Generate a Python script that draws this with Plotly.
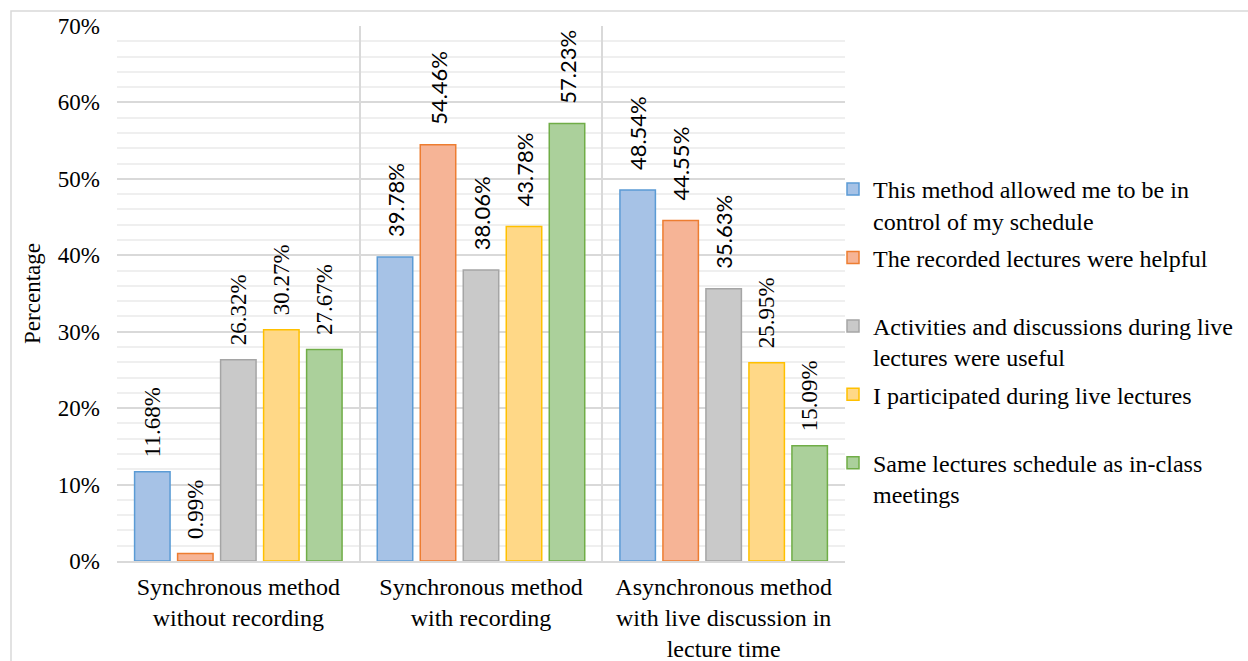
import plotly.graph_objects as go

# Survey categories (x axis) and response shares in percent
categories = [
    "Synchronous method<br>without recording",
    "Synchronous method<br>with recording",
    "Asynchronous method<br>with live discussion in<br>lecture time",
]

series_names = [
    "This method allowed me to be in<br>control of my schedule",
    "The recorded lectures were helpful<br>\u00a0",
    "Activities and discussions during live<br>lectures were useful",
    "I participated during live lectures<br>\u00a0",
    "Same lectures schedule as in-class<br>meetings",
]

control_schedule = [11.68, 39.78, 48.54]
recorded_helpful = [0.99, 54.46, 44.55]
activities_useful = [26.32, 38.06, 35.63]
participated_live = [30.27, 43.78, 25.95]
same_schedule = [27.67, 57.23, 15.09]

# Which value labels are set in a sans face (the rest use a serif face)
sans_labels = [
    [False, True, True],
    [False, True, True],
    [False, True, True],
    [False, True, False],
    [False, True, False],
]

fills = ["#a6c2e6", "#f6b496", "#c9c9c9", "#ffd887", "#abd09b"]
edges = ["#5b9bd5", "#ed7d31", "#a5a5a5", "#ffc000", "#70ad47"]

SERIF = "Liberation Serif"
SANS = "Lato"

W, H = 1248, 661
ML, MR, MT, MB = 117, 403, 26, 100
PW = W - ML - MR
PH = H - MT - MB

fig = go.Figure()

all_values = [control_schedule, recorded_helpful, activities_useful,
              participated_live, same_schedule]

for i, (name, vals) in enumerate(zip(series_names, all_values)):
    fams = [SANS if s else SERIF for s in sans_labels[i]]
    sizes = [22 if s else 23 for s in sans_labels[i]]
    labels = [("\u00a0\u00a0\u00a0" if s else "\u00a0\u00a0") + f"{v:.2f}%"
              for v, s in zip(vals, sans_labels[i])]
    fig.add_trace(go.Bar(
        name=name,
        x=categories,
        y=vals,
        text=labels,
        textposition="outside",
        textangle=-90,
        constraintext="none",
        cliponaxis=False,
        textfont=dict(family=fams, size=sizes, color="#000000"),
        marker=dict(color=fills[i], line=dict(color=edges[i], width=1.5)),
        legendgroup=f"g{i}",
        hoverinfo="skip",
    ))

# Outer chart frame (runs past the right and bottom edges of the page)
fig.add_shape(
    type="rect", xref="paper", yref="paper",
    x0=(11 - ML) / PW, x1=(W + 20 - ML) / PW,
    y0=-(H + 20 - MT - PH) / PH, y1=(H - MB - 11) / PH,
    line=dict(color="#d9d9d9", width=1.5), fillcolor="rgba(0,0,0,0)",
    layer="below",
)

fig.update_layout(
    width=W, height=H,
    margin=dict(l=ML, r=MR, t=MT, b=MB, autoexpand=False),
    paper_bgcolor="#ffffff",
    plot_bgcolor="#ffffff",
    barmode="group",
    bargap=0.114,
    bargroupgap=0.175,
    font=dict(family=SERIF, size=23, color="#000000"),
    showlegend=True,
    legend=dict(
        x=(833 - ML) / PW, xanchor="left",
        y=(H - MB - 167) / PH, yanchor="top",
        font=dict(family=SERIF, size=24, color="#000000"),
        bgcolor="rgba(0,0,0,0)",
        tracegroupgap=3,
        valign="top",
        itemclick=False,
    ),
    xaxis=dict(
        type="category",
        showgrid=True,
        gridcolor="#d9d9d9",
        gridwidth=1.5,
        tickson="boundaries",
        ticks="",
        showline=True,
        linecolor="#d9d9d9",
        linewidth=1.5,
        tickfont=dict(family=SERIF, size=24),
        ticklabelstandoff=3,
        zeroline=False,
    ),
    yaxis=dict(
        range=[0, 70],
        dtick=10,
        ticksuffix="%",
        showgrid=True,
        gridcolor="#d9d9d9",
        gridwidth=1.5,
        zeroline=False,
        ticks="",
        ticklabelstandoff=16,
        tickfont=dict(family=SERIF, size=23),
        minor=dict(dtick=2, showgrid=True, gridcolor="#efefef", gridwidth=1.5),
        title=dict(text="Percentage", font=dict(family=SERIF, size=23), standoff=10),
    ),
)

fig.write_html("out.html")
